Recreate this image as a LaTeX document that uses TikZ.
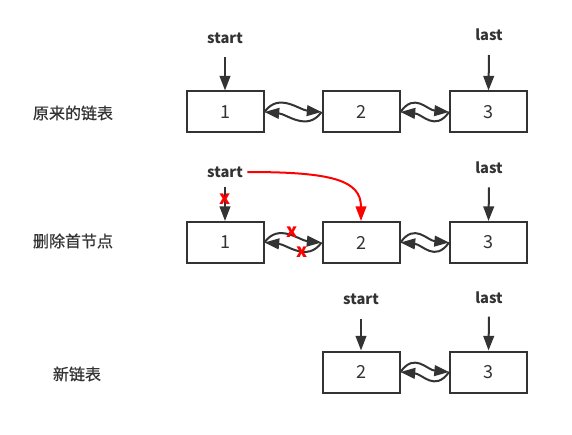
\documentclass[tikz,border=0pt]{standalone}
\usepackage{fontspec}
\setmainfont{Noto Sans CJK SC}
\newfontfamily\titlefont[BoldFont={Noto Sans CJK SC},BoldFeatures={FakeBold=0.7}]{Noto Sans CJK SC}
\usetikzlibrary{arrows.meta}
\definecolor{ink}{HTML}{333333}
\definecolor{redmark}{HTML}{FF0000}
\begin{document}
\begin{tikzpicture}[x=0.75pt,y=-0.75pt,
  box/.style={draw=ink,line width=1.5pt,minimum width=57.75pt,minimum height=30.75pt,inner sep=0pt,text=ink,font=\fontsize{13.5}{15}\selectfont},
  lab/.style={font=\bfseries\fontsize{11}{13}\selectfont,text=ink},
  title/.style={font=\titlefont\bfseries\fontsize{12}{14}\selectfont,text=ink},
  arr/.style={draw=ink,line width=1.5pt,-{Triangle[length=11pt,width=8pt]}},
  redarr/.style={draw=redmark,line width=1.5pt,-{Triangle[length=11pt,width=8pt]}},
  cross/.style={text=redmark,font=\bfseries\fontsize{14}{15}\selectfont,inner sep=0pt}
]
\useasboundingbox (0,0) rectangle (572,435);
% row 1
\node[title] (t1) at (73,113) {原来的链表};
\node[box] (a1) at (225,112) {1};
\node[box] (a2) at (361,112) {2};
\node[box] (a3) at (488.5,112) {3};
\node[lab] (s1) at (225,38) {start};
\node[lab] (l1) at (489,35) {last};
\draw[arr] ([yshift=-14.5pt]s1.center) -- (a1.north);
\draw[arr] ([yshift=-15pt]l1.center) -- (a3.north);
\draw[arr] (a1.east) .. controls +(14,-20) and +(-22,-2) .. (a2.west);
\draw[arr] (a2.west) .. controls +(-14,20) and +(22,2) .. (a1.east);
\draw[arr] (a2.east) .. controls +(14,-20) and +(-22,-2) .. (a3.west);
\draw[arr] (a3.west) .. controls +(-14,20) and +(22,2) .. (a2.east);
% row 2
\node[title] (t2) at (73,241) {删除首节点};
\node[box] (b1) at (225,242.5) {1};
\node[box] (b2) at (361,242.5) {2};
\node[box] (b3) at (488.5,242.5) {3};
\node[lab] (s2) at (225,172) {start};
\node[lab] (l2) at (489,168) {last};
\draw[arr] ([yshift=-11pt]s2.center) -- (b1.north);
\draw[arr] ([yshift=-14.5pt]l2.center) -- (b3.north);
\draw[arr] (b1.east) .. controls +(14,-20) and +(-22,-2) .. (b2.west);
\draw[arr] (b2.west) .. controls +(-14,20) and +(22,2) .. (b1.east);
\draw[arr] (b2.east) .. controls +(14,-20) and +(-22,-2) .. (b3.west);
\draw[arr] (b3.west) .. controls +(-14,20) and +(22,2) .. (b2.east);
\draw[redarr] (s2.east) .. controls +(84,0) and +(0,-41) .. (b2.north);
\node[cross] (x1) at (225,199) {x};
\node[cross] (x2) at (292,232) {x};
\node[cross] (x3) at (302,252) {x};
% row 3
\node[title] (t3) at (77,374) {新链表};
\node[box] (c2) at (361,372) {2};
\node[box] (c3) at (488.5,372) {3};
\node[lab] (s3) at (361,299) {start};
\node[lab] (l3) at (489,298) {last};
\draw[arr] ([yshift=-15pt]s3.center) -- (c2.north);
\draw[arr] ([yshift=-14pt]l3.center) -- (c3.north);
\draw[arr] (c2.east) .. controls +(14,-20) and +(-22,-2) .. (c3.west);
\draw[arr] (c3.west) .. controls +(-14,20) and +(22,2) .. (c2.east);
\end{tikzpicture}
\end{document}
